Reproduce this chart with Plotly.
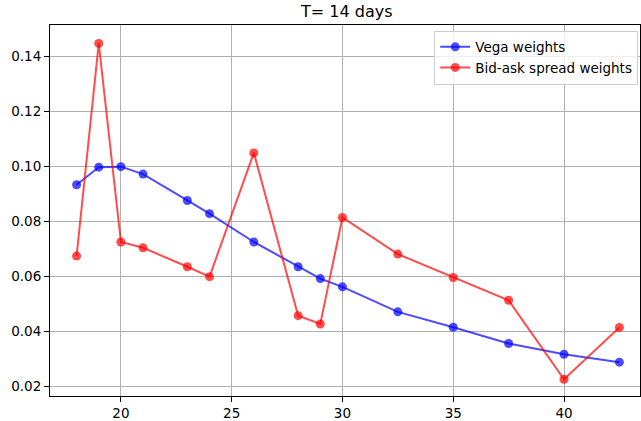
import plotly.graph_objects as go

# Maturities (days) and weight values for each series
maturities = [18, 19, 20, 21, 23, 24, 26, 28, 29, 30, 32.5, 35, 37.5, 40, 42.5]
vega_weights = [0.0934, 0.0998, 0.1000, 0.0973, 0.0877, 0.0829, 0.0726, 0.0636,
                0.0593, 0.0563, 0.0472, 0.0416, 0.0357, 0.0318, 0.0289]
spread_weights = [0.0675, 0.1448, 0.0726, 0.0705, 0.0636, 0.0600, 0.1050, 0.0458,
                  0.0428, 0.0815, 0.0682, 0.0597, 0.0514, 0.0227, 0.0415]

x_ticks = [20, 25, 30, 35, 40]
y_ticks = [0.02, 0.04, 0.06, 0.08, 0.10, 0.12, 0.14]

font = "DejaVu Sans"

fig = go.Figure()
fig.add_trace(go.Scatter(
    x=maturities, y=vega_weights, mode="lines+markers", name="Vega weights",
    line=dict(color="rgba(0,0,255,0.7)", width=2),
    marker=dict(color="rgba(0,0,255,0.7)", size=9),
))
fig.add_trace(go.Scatter(
    x=maturities, y=spread_weights, mode="lines+markers", name="Bid-ask spread weights",
    line=dict(color="rgba(255,0,0,0.7)", width=2),
    marker=dict(color="rgba(255,0,0,0.7)", size=9),
))

axis_common = dict(
    showgrid=True, gridcolor="#b0b0b0", gridwidth=1,
    showline=True, linecolor="black", linewidth=1, mirror=True,
    ticks="outside", ticklen=5, tickcolor="black",
    tickfont=dict(family=font, size=13.5, color="black"),
    zeroline=False,
)

fig.update_layout(
    width=641, height=421,
    margin=dict(l=50, r=1, t=25, b=25),
    paper_bgcolor="white", plot_bgcolor="white",
    title=dict(text="T= 14 days", xref="paper", x=0.503, xanchor="center",
               yref="container", y=0.972, yanchor="middle",
               font=dict(family=font, size=16, color="black")),
    xaxis=dict(range=[16.8, 43.43], tickvals=x_ticks, **axis_common),
    yaxis=dict(range=[0.0166, 0.1515], tickvals=y_ticks, tickformat=".2f", **axis_common),
    legend=dict(x=0.997, y=0.985, xanchor="right", yanchor="top",
                bgcolor="rgba(255,255,255,0.8)", bordercolor="#cccccc", borderwidth=1,
                font=dict(family=font, size=13.5, color="black"),
                tracegroupgap=0, itemwidth=30),
    showlegend=True,
)

fig.write_html("out.html")
